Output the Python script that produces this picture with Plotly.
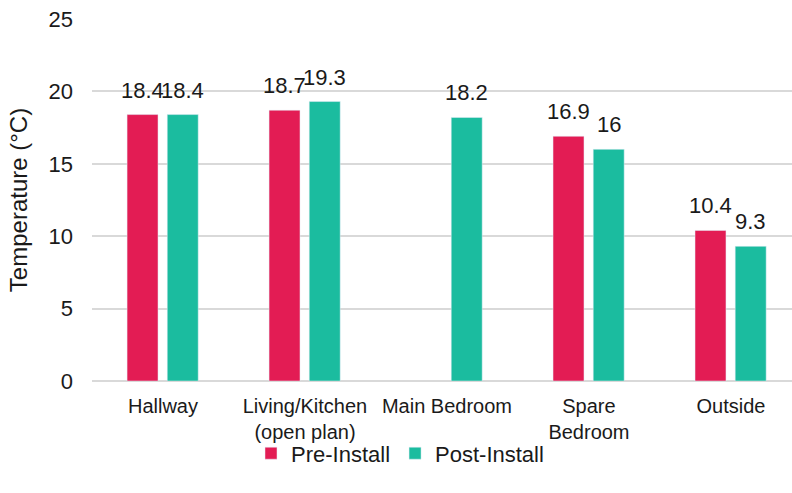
import plotly.graph_objects as go

rooms = ["Hallway", "Living/Kitchen<br>(open plan)", "Main Bedroom", "Spare<br>Bedroom", "Outside"]
pre_install = [18.4, 18.7, None, 16.9, 10.4]
post_install = [18.4, 19.3, 18.2, 16.0, 9.3]
y_ticks = [0, 5, 10, 15, 20, 25]

PINK = "#E31C54"
TEAL = "#1BBC9F"
INK = "#1a1a1a"
FONT = "Liberation Sans, Arial, sans-serif"
BAR_W = 0.218
OFFSETS = {"Pre-Install": -0.253, "Post-Install": 0.030}

fig = go.Figure()
annotations = []
for name, vals, color in [("Pre-Install", pre_install, PINK),
                          ("Post-Install", post_install, TEAL)]:
    off = OFFSETS[name]
    fig.add_trace(go.Bar(
        name=name, x=rooms, y=vals, marker_color=color,
        width=BAR_W, offset=off,
    ))
    # value labels sitting above each bar
    for i, v in enumerate(vals):
        if v is None:
            continue
        annotations.append(dict(
            x=i + off + BAR_W / 2, y=v, xref="x", yref="y",
            text=f"{v:g}", showarrow=False, yanchor="bottom", yshift=10,
            font=dict(size=22, color=INK, family=FONT),
        ))

fig.update_layout(
    width=792, height=493,
    margin=dict(l=92, r=0, t=19, b=112),
    plot_bgcolor="white", paper_bgcolor="white",
    barmode="overlay",
    font=dict(family=FONT, color=INK),
    showlegend=True,
    annotations=annotations,
    legend=dict(
        orientation="h", x=0.44, xanchor="center", y=-0.2, yanchor="middle",
        font=dict(size=22, color=INK), itemwidth=30, traceorder="normal",
        bgcolor="rgba(0,0,0,0)",
    ),
    xaxis=dict(
        range=[-0.5, 4.43], showgrid=False, showline=False, ticks="",
        tickfont=dict(size=20, color=INK), zeroline=False,
        ticklabelstandoff=11,
    ),
    yaxis=dict(
        range=[0, 25], tickvals=y_ticks, showgrid=True, gridcolor="#d9d9d9",
        gridwidth=1.5, zeroline=True, zerolinecolor="#d9d9d9", zerolinewidth=1.5,
        ticks="", tickfont=dict(size=22, color=INK), ticklabelstandoff=18,
        title=dict(text="Temperature (°C)", font=dict(size=24, color=INK), standoff=14),
    ),
)

fig.write_html("out.html")
